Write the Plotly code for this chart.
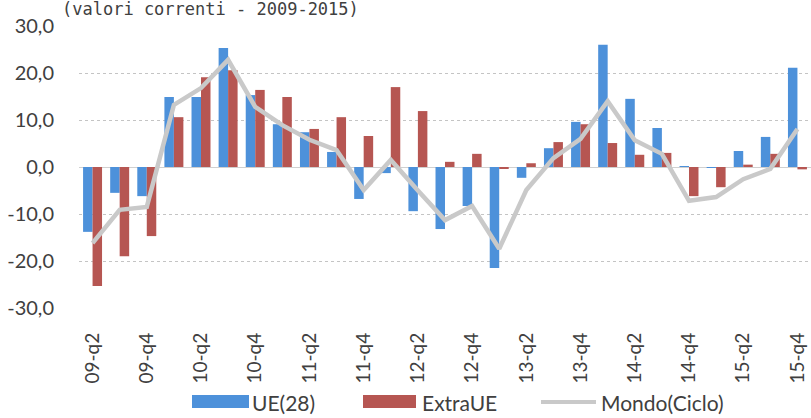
import plotly.graph_objects as go

quarters = ["09-q2","09-q3","09-q4","10-q1","10-q2","10-q3","10-q4","11-q1","11-q2","11-q3",
            "11-q4","12-q1","12-q2","12-q3","12-q4","13-q1","13-q2","13-q3","13-q4","14-q1",
            "14-q2","14-q3","14-q4","15-q1","15-q2","15-q3","15-q4"]
ue28 = [-13.8, -5.5, -6.2, 14.9, 14.9, 25.3, 15.3, 9.1, 7.4, 3.2,
        -6.8, -1.3, -9.4, -13.2, -8.3, -21.5, -2.3, 4.0, 9.6, 26.0,
        14.5, 8.3, 0.2, -0.2, 3.4, 6.4, 21.1]
extra_ue = [-25.3, -19.0, -14.7, 10.6, 19.1, 20.6, 16.4, 14.9, 8.1, 10.6,
            6.6, 17.0, 11.9, 1.1, 2.8, -0.3, 0.8, 5.3, 9.1, 5.1,
            2.6, 3.0, -6.2, -4.3, 0.5, 2.8, -0.5]
mondo = [-16.2, -9.1, -8.5, 13.2, 16.8, 22.8, 12.8, 8.9, 5.8, 3.6,
         -4.9, 1.5, -5.0, -11.3, -8.3, -17.4, -4.9, 1.9, 6.0, 14.0,
         5.7, 2.8, -7.2, -6.4, -2.6, -0.4, 8.1]
tick_labels = quarters[::2]
y_ticks = [30, 20, 10, 0, -10, -20, -30]
y_tick_text = ["30,0", "20,0", "10,0", "0,0", "-10,0", "-20,0", "-30,0"]

BLUE = "#4D91DA"
RED = "#B65652"
GREY = "#C9C9C9"
TXT = "#404040"
FONT = "Lato"

fig = go.Figure()
fig.add_trace(go.Bar(x=quarters, y=ue28, name="UE(28)", marker_color=BLUE,
                     marker_line_width=0))
fig.add_trace(go.Bar(x=quarters, y=extra_ue, name="ExtraUE", marker_color=RED,
                     marker_line_width=0))
fig.add_trace(go.Scatter(x=quarters, y=mondo, name="Mondo(Ciclo)", mode="lines",
                         line=dict(color=GREY, width=4.5)))

L, R, T, B = 79, 811, 26, 308
W, H = R - L, B - T
def px(x):
    return (x - L) / W
def py(y):
    return (B - y) / H

shapes = [
    dict(type="rect", xref="paper", yref="paper", x0=px(192), x1=px(249), y0=py(408), y1=py(395),
         fillcolor=BLUE, line_width=0),
    dict(type="rect", xref="paper", yref="paper", x0=px(363), x1=px(416), y0=py(408), y1=py(395),
         fillcolor=RED, line_width=0),
    dict(type="line", xref="paper", yref="paper", x0=px(541), x1=px(596), y0=py(402), y1=py(402),
         line=dict(color=GREY, width=4)),
]
annotations = [
    dict(text="UE(28)", xref="paper", yref="paper", x=px(250), y=py(402), xanchor="left",
         yanchor="middle", showarrow=False, font=dict(size=21, color=TXT, family=FONT)),
    dict(text="ExtraUE", xref="paper", yref="paper", x=px(420), y=py(402), xanchor="left",
         yanchor="middle", showarrow=False, font=dict(size=21, color=TXT, family=FONT)),
    dict(text="Mondo(Ciclo)", xref="paper", yref="paper", x=px(599), y=py(402), xanchor="left",
         yanchor="middle", showarrow=False, font=dict(size=21, color=TXT, family=FONT)),
    dict(text="(valori correnti - 2009-2015)", xref="paper", yref="paper", x=px(60), y=py(9),
         xanchor="left", yanchor="middle", showarrow=False,
         font=dict(size=17, color=TXT, family="DejaVu Sans Mono")),
]

fig.update_layout(
    width=811, height=418,
    margin=dict(l=L, r=0, t=T, b=418 - B, pad=0),
    paper_bgcolor="white", plot_bgcolor="white",
    barmode="group", bargap=0.3, bargroupgap=0.0,
    showlegend=False,
    shapes=shapes, annotations=annotations,
    font=dict(family=FONT, color=TXT),
)
fig.update_xaxes(
    type="category", categoryorder="array", categoryarray=quarters,
    tickmode="array", tickvals=tick_labels, ticktext=tick_labels,
    tickangle=-90, tickfont=dict(size=19, color=TXT, family=FONT),
    showgrid=False, showline=False, ticks="", ticklabelstandoff=20,
)
fig.update_yaxes(
    range=[-30, 30], tickmode="array", tickvals=y_ticks, ticktext=y_tick_text,
    tickfont=dict(size=20, color=TXT, family=FONT),
    showgrid=True, gridcolor="#C4C4C4", griddash="dot", gridwidth=1,
    zeroline=True, zerolinecolor="#D0D0D0", zerolinewidth=1,
    showline=False, ticks="", ticklabelstandoff=24,
)

fig.write_html("out.html")
